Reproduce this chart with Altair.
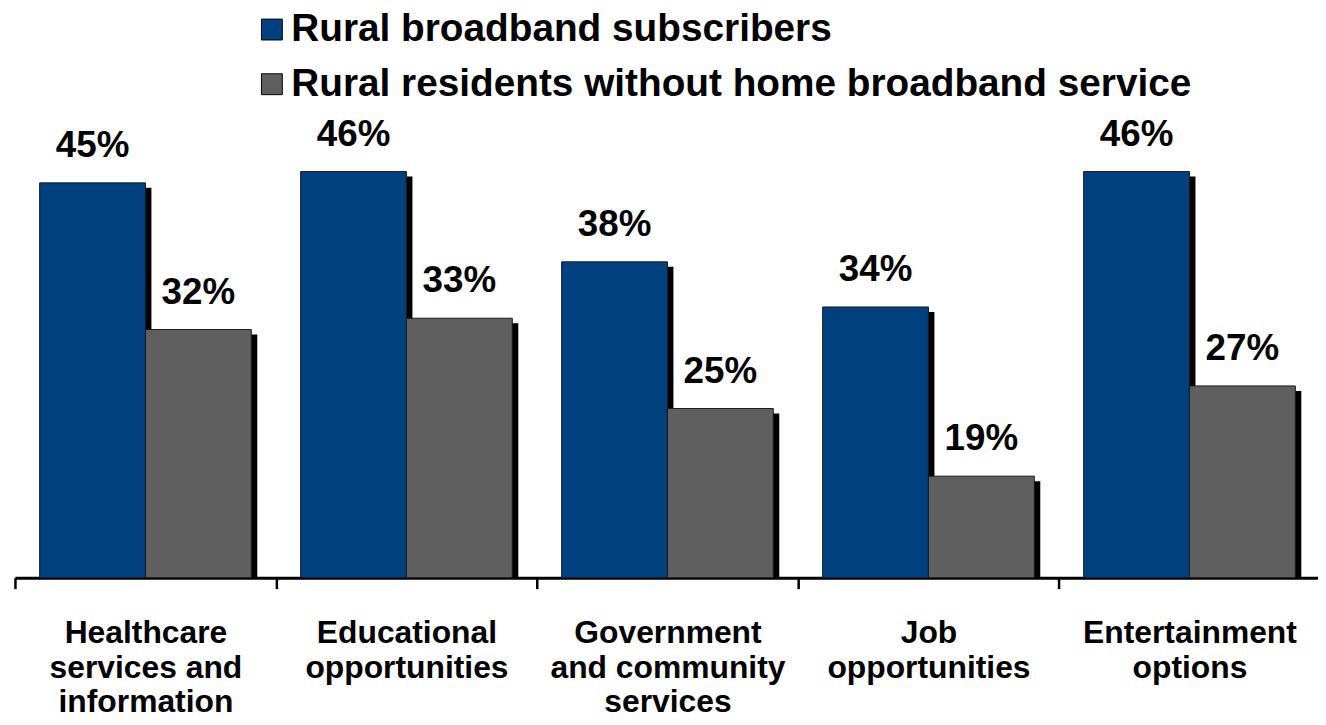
import altair as alt
import pandas as pd

categories = [
    "Healthcare\nservices and\ninformation",
    "Educational\nopportunities",
    "Government\nand community\nservices",
    "Job\nopportunities",
    "Entertainment\noptions",
]
series = ["Rural broadband subscribers", "Rural residents without home broadband service"]
subscribers = [45, 46, 38, 34, 46]
non_subscribers = [32, 33, 25, 19, 27]
colors = ["#00407f", "#5f5f5f"]

rows = []
for c, a, b in zip(categories, subscribers, non_subscribers):
    rows.append({"category": c, "series": series[0], "value": a, "label": f"{a}%"})
    rows.append({"category": c, "series": series[1], "value": b, "label": f"{b}%"})
df = pd.DataFrame(rows)

FONT = "Liberation Sans"
STEP = 262.6
PAD_O = 0.2329

x_enc = alt.X(
    "category:N",
    sort=categories,
    scale=alt.Scale(range=[0, 5 * STEP], paddingInner=0, paddingOuter=0),
    axis=alt.Axis(
        title=None,
        labelAngle=0,
        labelExpr="split(datum.label, '\\n')",
        labelFont=FONT,
        labelFontSize=32,
        labelFontWeight="bold",
        labelColor="black",
        labelLineHeight=35,
        labelPadding=29,
        labelBaseline="top",
        labelLimit=400,
        domainColor="black",
        domainWidth=3,
        tickColor="black",
        tickWidth=2.5,
        tickSize=11,
        tickBand="extent",
        grid=False,
    ),
)
xo_enc = alt.XOffset("series:N", sort=series,
                     scale=alt.Scale(paddingInner=0, paddingOuter=PAD_O))
xo_shadow = alt.XOffset("series:N", sort=series,
                        scale=alt.Scale(range=[6, STEP + 6], paddingInner=0, paddingOuter=PAD_O))
xo_text = alt.XOffset("series:N", sort=series,
                      scale=alt.Scale(type="point", padding=PAD_O + 0.5))
y_scale = alt.Scale(domain=[10, 50], zero=False, nice=False)
y_enc = alt.Y("value:Q", scale=y_scale, axis=None)

base = alt.Chart(df)

shadow = base.mark_bar(color="black", yOffset=5).encode(
    x=x_enc, xOffset=xo_shadow, y=y_enc, y2=alt.datum(10)
)

bars = base.mark_bar(stroke="#1a1a1a", strokeWidth=1).encode(
    x=x_enc,
    xOffset=xo_enc,
    y=y_enc,
    y2=alt.datum(10),
    color=alt.Color(
        "series:N",
        sort=series,
        scale=alt.Scale(domain=series, range=colors),
        legend=alt.Legend(
            title=None,
            orient="none",
            legendX=239,
            legendY=-117,
            direction="vertical",
            symbolType="square",
            symbolSize=441,
            symbolStrokeColor="black",
            symbolStrokeWidth=1,
            symbolOpacity=1,
            labelFont=FONT,
            labelFontSize=39,
            labelFontWeight="bold",
            labelColor="black",
            labelLimit=1200,
            labelOffset=0,
            rowPadding=15,
            padding=0,
        ),
    ),
)

labels = base.mark_text(
    font=FONT, fontSize=37, fontWeight="bold", color="black",
    baseline="alphabetic", dy=-26,
).encode(x=x_enc, xOffset=xo_text, y=y_enc, text="label:N")

chart = (
    alt.layer(shadow, bars, labels)
    .resolve_scale(xOffset="independent")
    .properties(
        width=1303,
        height=454,
        padding={"left": 7, "top": 117, "right": 8, "bottom": 146},
        autosize=alt.AutoSizeParams(type="none"),
    )
    .configure_view(stroke=None)
)

chart.save("out.html", embed_options={"renderer": "svg", "actions": False})
